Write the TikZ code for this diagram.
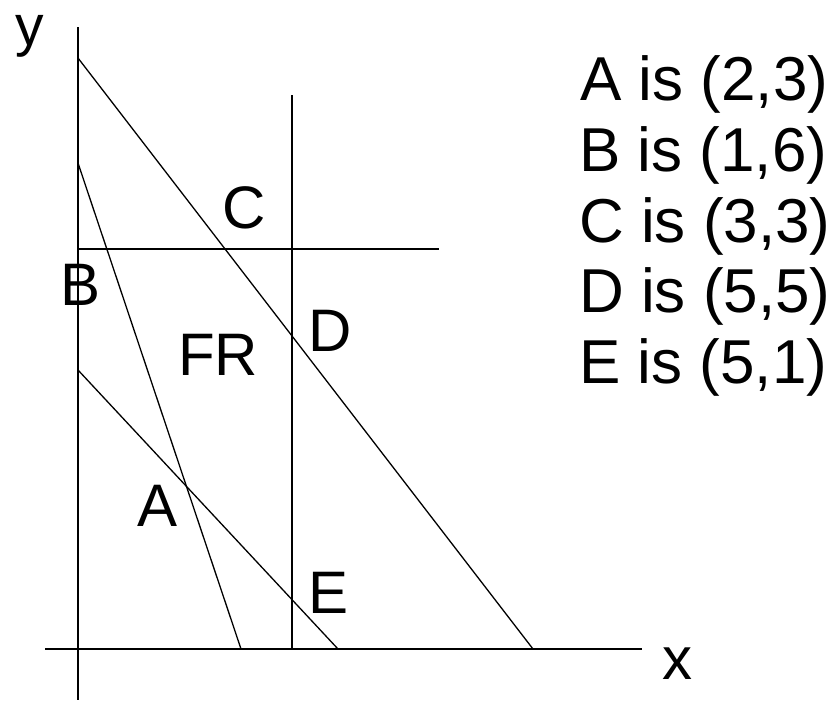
\documentclass[tikz,border=0pt]{standalone}
\usepackage{fontspec}
\setmainfont{Liberation Sans}
\begin{document}
\begin{tikzpicture}[x=1pt,y=-1pt,
  axis/.style={line width=1.8pt},
  ln/.style={line width=1.3pt},
  lbl/.style={anchor=base west,inner sep=0pt,font=\fontsize{60}{60}\selectfont},
  lst/.style={anchor=base west,inner sep=0pt,font=\fontsize{62}{62}\selectfont}]
\useasboundingbox (0,0) rectangle (832,702);
% axis ends
\coordinate (ytop) at (78,27);
\coordinate (ybot) at (78,700);
\coordinate (xl) at (45,649);
\coordinate (xr) at (642,649);
% line ends
\coordinate (l1a) at (78,58);
\coordinate (l1b) at (533,649);
\coordinate (l2a) at (78,163);
\coordinate (l2b) at (241,649);
\coordinate (l3a) at (78,370);
\coordinate (l3b) at (338,649);
\coordinate (vt) at (292,95);
\coordinate (vb) at (292,649);
\coordinate (hl) at (78,249);
\coordinate (hr) at (439,249);
\draw[axis] (ytop) -- (ybot);
\draw[axis] (xl) -- (xr);
\draw[ln] (l1a) -- (l1b);
\draw[ln] (l2a) -- (l2b);
\draw[ln] (l3a) -- (l3b);
\draw[ln] (vt) -- (vb);
\draw[ln] (hl) -- (hr);
% labels
\node[lbl,font=\fontsize{57}{57}\selectfont,text height=28pt] (ylab) at (15,45) {y};
\node[lbl] (xlab) at (662,679) {x};
\node[lbl] (Clab) at (222,228) {C};
\node[lbl] (Blab) at (60,305) {B};
\node[lbl] (FRlab) at (178,375) {FR};
\node[lbl] (Dlab) at (308,351) {D};
\node[lbl] (Alab) at (137,526) {A};
\node[lbl] (Elab) at (308,613) {E};
% list
\node[lst] (la) at (580,100) {A is (2,3)};
\node[lst] (lb) at (579,171) {B is (1,6)};
\node[lst] (lc) at (579,242) {C is (3,3)};
\node[lst] (ld) at (579,312) {D is (5,5)};
\node[lst] (le) at (579,383) {E is (5,1)};
\end{tikzpicture}
\end{document}
